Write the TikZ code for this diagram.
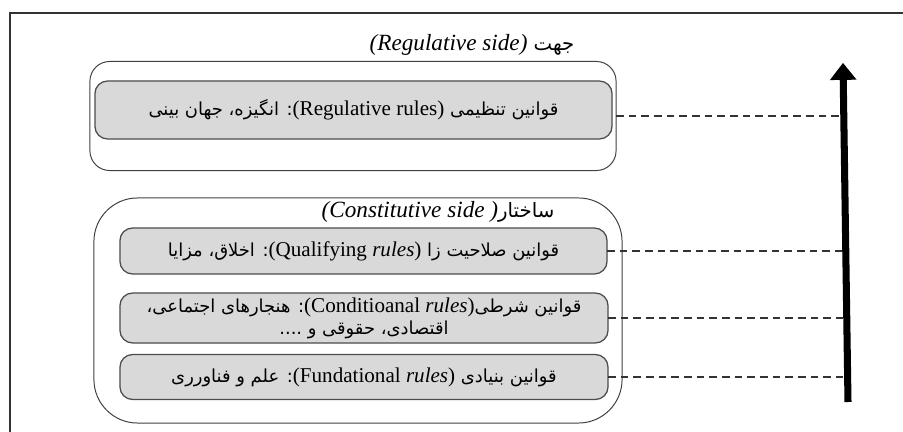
\documentclass[tikz,border=0pt]{standalone}
\usepackage{fontspec}
\setmainfont{Liberation Serif}
\newfontfamily\arabicfont[Script=Arabic,Scale=0.85]{DejaVu Sans}
\TeXXeTstate=1
\usetikzlibrary{arrows.meta}

\begin{document}
\begin{tikzpicture}[x=0.025cm,y=-0.025cm,
  outerbox/.style={draw=black!75,line width=0.7pt,rounded corners=#1,inner sep=0pt,outer sep=0pt},
  rulebox/.style={draw=black!70,fill=black!15,line width=0.9pt,rounded corners=9pt,inner sep=0pt,outer sep=0pt,align=center,font=\fontsize{15}{15.5}\selectfont\arabicfont},
  sidelabel/.style={font=\fontsize{16.5}{18}\selectfont\arabicfont},
  guide/.style={draw=black!80,line width=0.9pt,dash pattern=on 5.5pt off 3.5pt}]
\useasboundingbox (0,0) rectangle (903,432);
\draw[black!80,line width=0.8pt] (10,432) -- (10,13) -- (903,13);
\node[sidelabel] (reglabel) at (472,45) {\beginR جهت \beginL\textrm{\textit{(Regulative side)}}\endL\endR};
\node[outerbox=14pt,minimum width=13.15cm,minimum height=2.725cm] (regbox) at (353,116) {};
\node[rulebox,minimum width=12.925cm,minimum height=1.45cm] (regrules) at (353.5,110) {\beginR قوانین تنظیمی \beginL\textrm{(Regulative rules)}\endL: انگیزه، جهان بینی\endR};
\node[outerbox=31pt,minimum width=13.2cm,minimum height=5.625cm] (conbox) at (358,310.5) {};
\node[sidelabel] (conlabel) at (438,212) {\beginR ساختار\beginL\textrm{\textit{(Constitutive side )}}\endL\endR};
\node[rulebox,minimum width=12.175cm,minimum height=1.15cm] (qualrules) at (363.5,251) {\beginR قوانین صلاحیت زا \beginL\textrm{(Qualifying \textit{rules})}\endL: اخلاق، مزایا\endR};
\node[rulebox,minimum width=12.2cm,minimum height=1.25cm] (condrules) at (364,318) {\beginR قوانین شرطی\beginL\textrm{(Conditioanal \textit{rules})}\endL: هنجارهای اجتماعی،\endR\\\beginR اقتصادی، حقوقی و ....\endR};
\node[rulebox,minimum width=12.2cm,minimum height=1.125cm] (fundrules) at (364,377) {\beginR قوانین بنیادی \beginL\textrm{(Fundational \textit{rules})}\endL: علم و فناورری\endR};
\coordinate (arrowtail) at (848,402);
\coordinate (arrowhead) at (843,63);
\draw[guide] (regbox.east) -- (regbox.east -| arrowhead);
\foreach \n in {qualrules,condrules,fundrules}
  \draw[guide] (\n.east) -- (\n.east -| arrowhead);
\draw[line width=5pt,-{Triangle[width=19pt,length=12pt,line width=0pt]}] (arrowtail) -- (arrowhead);
\end{tikzpicture}
\end{document}
